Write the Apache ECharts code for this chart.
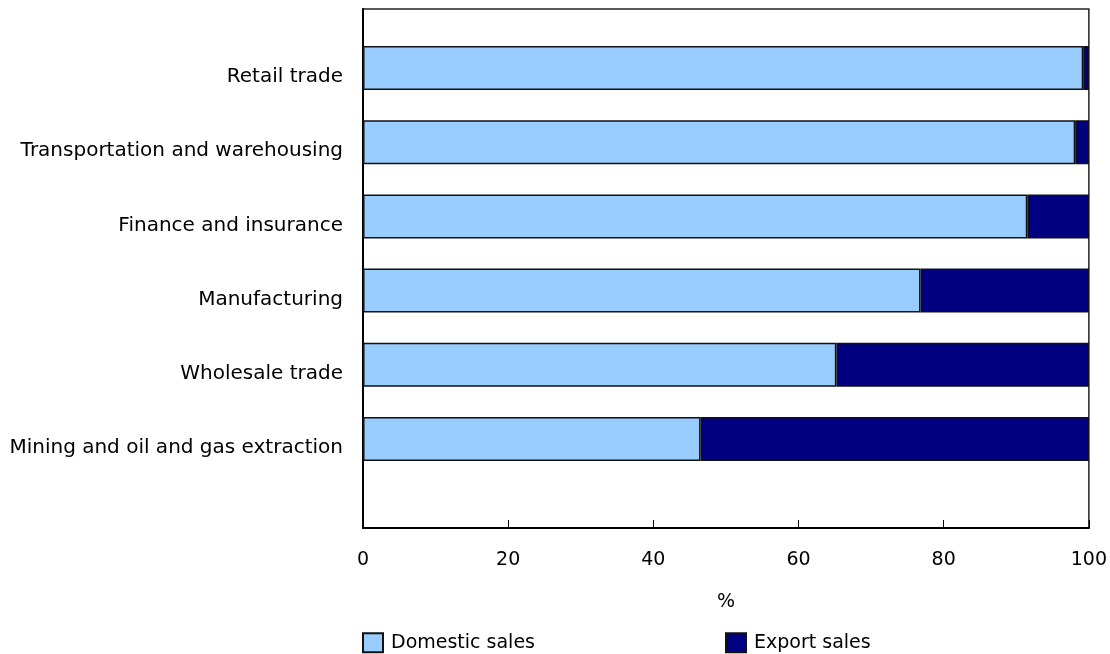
<!DOCTYPE html>
<html lang="en">
<head>
    <title>Domestic and export sales</title>
    <script src="https://cdn.jsdelivr.net/npm/echarts@6/dist/echarts.min.js"></script>
    <style>
        html, body {
            margin: 0;
            padding: 0;
            background: #fff;
        }
    </style>
</head>
<body>
<div id="chart" style="width: 1110px; height: 654px;"></div>

<script>
    // categories bottom to top
    var industries = ['Mining and oil and gas extraction', 'Wholesale trade', 'Manufacturing',
        'Finance and insurance', 'Transportation and warehousing', 'Retail trade'];
    var domesticSales = [46.5, 65.2, 76.8, 91.5, 98.1, 99.2];
    var exportSales = [53.5, 34.8, 23.2, 8.5, 1.9, 0.8];
    var xTicks = [0, 20, 40, 60, 80, 100];

    var font = 'DejaVu Sans, Verdana, sans-serif';
    var myChart = echarts.init(document.getElementById('chart'));

    var legendCommon = {
        itemWidth: 20,
        itemHeight: 19,
        icon: 'rect',
        textStyle: { fontFamily: font, fontSize: 19, color: '#000', padding: [0, 0, 0, 3] }
    };

    var option = {
        animation: false,
        textStyle: { fontFamily: font, color: '#000' },
        legend: [
            Object.assign({ left: 357, top: 619, data: ['Domestic sales'] }, legendCommon),
            Object.assign({ left: 720, top: 619, data: ['Export sales'] }, legendCommon)
        ],
        grid: [
            // frame + x axis
            { left: 363, right: 21, top: 9, bottom: 126, show: true, borderColor: '#222', borderWidth: 1.5 },
            // bars
            { left: 363, right: 21, top: 31, bottom: 178 }
        ],
        xAxis: [
            {
                gridIndex: 0,
                type: 'value',
                min: 0,
                max: 100,
                interval: 20,
                name: '%',
                nameLocation: 'middle',
                nameGap: 54,
                nameTextStyle: { fontSize: 19, color: '#000' },
                axisLine: { show: true, lineStyle: { color: '#000', width: 2 } },
                axisTick: { show: true, inside: true, length: 8, lineStyle: { color: '#000' } },
                axisLabel: {
                    fontSize: 19, color: '#000', margin: 13,
                    formatter: function (v) { return xTicks.indexOf(v) >= 0 ? String(v) : ''; }
                },
                splitLine: { show: false }
            },
            { gridIndex: 1, type: 'value', min: 0, max: 100, show: false }
        ],
        yAxis: [
            {
                gridIndex: 0,
                type: 'value',
                axisLine: { show: true, lineStyle: { color: '#000', width: 2 } },
                axisTick: { show: false },
                axisLabel: { show: false },
                splitLine: { show: false }
            },
            {
                gridIndex: 1,
                type: 'category',
                data: industries,
                axisLine: { show: false },
                axisTick: { show: false },
                axisLabel: {
                    fontSize: 20, color: '#000', margin: 20, lineHeight: 18,
                    // blank first line pushes the text a little below the bar centre
                    formatter: function (v) { return '\n' + v; }
                }
            }
        ],
        series: [
            {
                name: 'Domestic sales',
                type: 'bar',
                stack: 'total',
                xAxisIndex: 1,
                yAxisIndex: 1,
                barWidth: 44,
                itemStyle: { color: '#99CCFF', borderColor: '#111', borderWidth: 1.5 },
                data: domesticSales
            },
            {
                name: 'Export sales',
                type: 'bar',
                stack: 'total',
                xAxisIndex: 1,
                yAxisIndex: 1,
                barWidth: 44,
                itemStyle: { color: '#000080', borderColor: '#111', borderWidth: 1.5 },
                data: exportSales
            }
        ]
    };
    myChart.setOption(option);
</script>
</body>
</html>
